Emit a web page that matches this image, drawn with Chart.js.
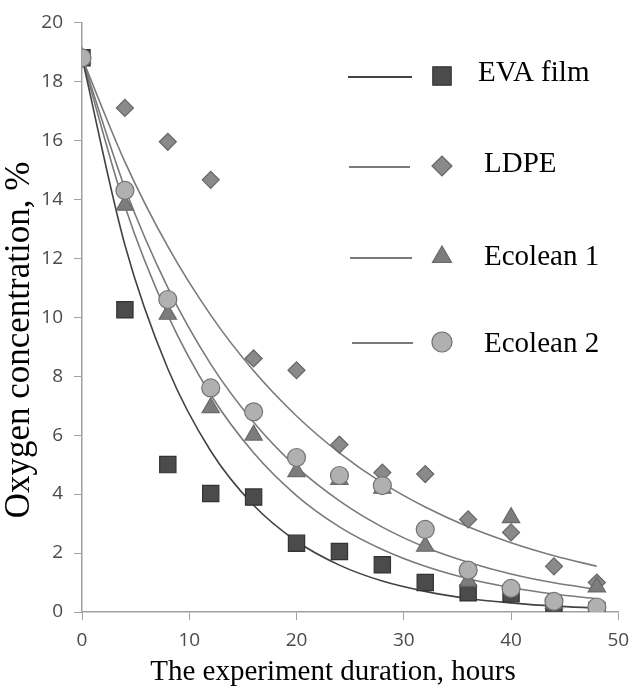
<!DOCTYPE html>
<html><head><meta charset="utf-8">
<script src="https://cdn.jsdelivr.net/npm/chart.js@4.4.1/dist/chart.umd.min.js"></script>
<style>html,body{margin:0;padding:0;background:#fff;}#wrap{width:631px;height:686px;position:relative}</style>
</head><body><div id="wrap"><canvas id="c" width="631" height="686"></canvas></div>
<script>
// ---- data ----
const hours = [0, 4, 8, 12, 16, 20, 24, 28, 32, 36, 40, 44, 48];
const seriesNames = ['EVA film', 'LDPE', 'Ecolean 1', 'Ecolean 2'];
const evaFilm  = [18.8, 10.25, 5.0, 4.02, 3.9, 2.33, 2.05, 1.6, 1.0, 0.65, 0.62, 0.08, 0.05];
const ldpe     = [18.8, 17.1, 15.95, 14.66, 8.6, 8.2, 5.68, 4.73, 4.68, 3.14, 2.7, 1.55, 1.0];
const ecolean1 = [18.8, 13.8, 10.1, 6.93, 6.0, 4.76, 4.5, 4.2, 2.23, 1.05, 3.2, 0.3, 0.85];
const ecolean2 = [18.8, 14.3, 10.6, 7.6, 6.79, 5.24, 4.63, 4.29, 2.8, 1.42, 0.8, 0.36, 0.17];
// trend curves at the same hours
const evaTrend  = [18.8, 12.45, 8.25, 5.46, 3.62, 2.40, 1.59, 1.05, 0.70, 0.46, 0.31, 0.20, 0.14];
const ldpeTrend = [18.8, 15.27, 12.40, 10.07, 8.18, 6.65, 5.40, 4.38, 3.56, 2.89, 2.35, 1.91, 1.55];
const eco1Trend = [18.8, 13.76, 10.07, 7.37, 5.40, 3.95, 2.89, 2.12, 1.55, 1.13, 0.83, 0.61, 0.45];
const eco2Trend = [18.8, 14.38, 11.0, 8.41, 6.44, 4.92, 3.77, 2.88, 2.20, 1.69, 1.29, 0.99, 0.77];
const xTicks = [0, 10, 20, 30, 40, 50];
const yTicks = [0, 2, 4, 6, 8, 10, 12, 14, 16, 18, 20];
const xTitle = 'The experiment duration, hours';
const yTitle = 'Oxygen concentration, %';

const pts = arr => hours.map((h, i) => ({x: h, y: arr[i]}));

const styles = [
  {style: 'rect',    r: 11.5, lr: 13,  fill: '#4b4b4b', stroke: '#333333', line: '#424242'},
  {style: 'rectRot', r: 8.5,  lr: 10,  fill: '#8a8a8a', stroke: '#666666', line: '#7a7a7a'},
  {style: 'triangle',r: 10,   lr: 11,  fill: '#7c7c7c', stroke: '#6a6a6a', line: '#7a7a7a'},
  {style: 'circle',  r: 9,    lr: 10,  fill: '#b0b0b0', stroke: '#727272', line: '#7a7a7a'}
];
const values = [evaFilm, ldpe, ecolean1, ecolean2];
const trends = [evaTrend, ldpeTrend, eco1Trend, eco2Trend];

function scatterSet(i) {
  const s = styles[i];
  return {label: seriesNames[i], data: pts(values[i]), showLine: false,
    pointStyle: s.style, pointRadius: s.r, pointBackgroundColor: s.fill,
    pointBorderColor: s.stroke, pointBorderWidth: 1.2, pointHoverRadius: s.r};
}
function trendSet(i) {
  const s = styles[i];
  return {label: seriesNames[i] + ' trend', data: pts(trends[i]), showLine: true,
    borderColor: s.line, borderWidth: 1.6, pointRadius: 0, pointHoverRadius: 0,
    cubicInterpolationMode: 'monotone', fill: false};
}
// first dataset is drawn on top
const datasets = [scatterSet(3), scatterSet(2), scatterSet(1), scatterSet(0),
                  trendSet(0), trendSet(1), trendSet(2), trendSet(3)];

const legendRows = [
  {i: 0, y: 77, ty: 73, tx: 478, lx0: 348, lx1: 412},
  {i: 1, y: 167, ty: 164, tx: 484, lx0: 349, lx1: 410},
  {i: 2, y: 258, ty: 257, tx: 484, lx0: 350, lx1: 412},
  {i: 3, y: 343, ty: 344, tx: 484, lx0: 352, lx1: 413}
];

const overlay = {
  id: 'overlay',
  afterDraw(chart) {
    const ctx = chart.ctx;
    ctx.save();
    // legend
    legendRows.forEach(row => {
      const s = styles[row.i];
      ctx.strokeStyle = s.line; ctx.lineWidth = 2;
      ctx.beginPath(); ctx.moveTo(row.lx0, row.y); ctx.lineTo(row.lx1, row.y); ctx.stroke();
      ctx.fillStyle = s.fill; ctx.strokeStyle = s.stroke; ctx.lineWidth = 1.2;
      Chart.helpers.drawPoint(ctx, {pointStyle: s.style, radius: s.lr, borderWidth: 1.2}, 442, row.y - 1);
      ctx.fillStyle = '#000';
      ctx.font = '29px "Liberation Serif"';
      ctx.textAlign = 'left'; ctx.textBaseline = 'middle';
      ctx.fillText(seriesNames[row.i], row.tx, row.ty);
    });
    // axis titles
    ctx.fillStyle = '#000';
    ctx.font = '29px "Liberation Serif"';
    ctx.textAlign = 'center'; ctx.textBaseline = 'alphabetic';
    ctx.fillText(xTitle, 333, 680);
    ctx.translate(29, 340);
    ctx.rotate(-Math.PI / 2);
    ctx.font = '35px "Liberation Serif"';
    ctx.fillText(yTitle, 0, 0);
    ctx.restore();
  }
};

new Chart(document.getElementById('c'), {
  type: 'line',
  data: {datasets},
  options: {
    responsive: false, animation: false, devicePixelRatio: 1,
    layout: {padding: {left: 0, right: 11, top: 20, bottom: 0}},
    plugins: {legend: {display: false}, tooltip: {enabled: false}},
    scales: {
      x: {type: 'linear', min: 0, max: 50,
        afterBuildTicks: sc => { sc.ticks = xTicks.map(v => ({value: v})); },
        afterFit: sc => { sc.height = 74; sc.paddingLeft = 0; sc.paddingRight = 0; },
        grid: {drawOnChartArea: false, tickLength: 8, color: '#a0a0a0'},
        border: {color: '#a0a0a0', width: 1.5},
        ticks: {font: {family: 'Open Sans', size: 19}, color: '#4a4a4a', padding: 9, maxRotation: 0}
      },
      y: {type: 'linear', min: 0, max: 20,
        afterBuildTicks: sc => { sc.ticks = yTicks.map(v => ({value: v})); },
        afterFit: sc => { sc.width = 82; },
        grid: {drawOnChartArea: false, tickLength: 8, color: '#a0a0a0'},
        border: {color: '#a0a0a0', width: 1.5},
        ticks: {font: {family: 'Open Sans', size: 19}, color: '#4a4a4a', padding: 11}
      }
    }
  },
  plugins: [overlay]
});
</script></body></html>
